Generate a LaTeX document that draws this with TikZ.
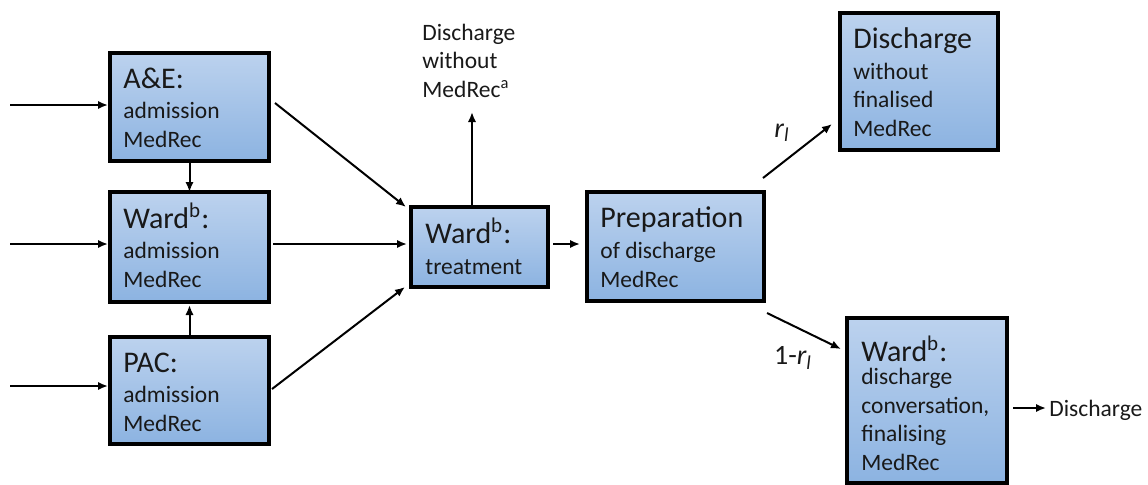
\documentclass[tikz,border=0pt]{standalone}
\usepackage{fontspec}
\setmainfont{Carlito}
\usetikzlibrary{arrows.meta,calc}
\definecolor{boxtop}{RGB}{188,210,238}
\definecolor{boxbot}{RGB}{140,179,225}
\definecolor{txt}{RGB}{25,25,25}
\newcommand{\ttlfont}{\fontsize{15}{18}\selectfont}
\newcommand{\bodyfont}{\fontsize{11.75}{14.25}\selectfont}
\tikzset{
  box/.style={draw=black, line width=1.6pt, top color=boxtop, bottom color=boxbot, rectangle, inner sep=0pt, outer sep=0pt},
  ttl/.style={anchor=base west, inner sep=0pt, font=\ttlfont, text=txt},
  body/.style={anchor=base west, inner sep=0pt, font=\bodyfont, align=left, text=txt},
  arr/.style={-{Latex[length=5pt,width=4.2pt]}, line width=1pt},
  lbl/.style={inner sep=0pt, font=\fontsize{14}{16}\selectfont, text=txt}
}
\begin{document}
\begin{tikzpicture}[x=0.5pt,y=-0.5pt]
\useasboundingbox (0,0) rectangle (1148,484);
% boxes
\node[box, minimum width=79.5pt, minimum height=54pt]   (ae)   at (189.5,107) {};
\node[box, minimum width=79.5pt, minimum height=55pt]   (wa)   at (189.5,247) {};
\node[box, minimum width=79.5pt, minimum height=53.5pt] (pac)  at (189.5,390.5) {};
\node[box, minimum width=68.5pt, minimum height=40pt]   (wt)   at (479.5,247) {};
\node[box, minimum width=88.5pt, minimum height=54.5pt] (prep) at (675.5,246.5) {};
\node[box, minimum width=79pt,   minimum height=68.5pt] (dis)  at (919,81.5) {};
\node[box, minimum width=80pt,   minimum height=82.5pt] (wd)   at (927,400.5) {};
% box texts (body nodes: base = baseline of last line)
\node[ttl]  (aet)  at (123,88)  {A\&E:};
\node[body] (aeb)  at (123,147) {admission\\MedRec};
\node[ttl]  (wat)  at (123,228) {Ward\textsuperscript{b}:};
\node[body] (wab)  at (123,287) {admission\\MedRec};
\node[ttl]  (pact) at (123,372) {PAC:};
\node[body] (pacb) at (123,431) {admission\\MedRec};
\node[ttl]  (wtt)  at (425,243) {Ward\textsuperscript{b}:};
\node[body] (wtb)  at (425,274) {treatment};
\node[ttl]  (prept) at (600,227) {Preparation};
\node[body] (prepb) at (600,287) {of discharge\\MedRec};
\node[ttl]  (dist) at (853,48)  {Discharge};
\node[body] (disb) at (853,136) {without\\finalised\\MedRec};
\node[ttl]  (wdt)  at (861,361) {Ward\textsuperscript{b}:};
\node[body] (wdb)  at (861,470) {discharge\\conversation,\\finalising\\MedRec};
% free texts
\node[body] (dwm) at (422,97) {Discharge\\without\\MedRec\textsuperscript{a}};
\node[body] (dout) at (1049,416) {Discharge};
\node[lbl] (r1) at (782,133) {\itshape r\textsubscript{l}};
\node[lbl] (r2) at (793,358) {1-\itshape r\textsubscript{l}};
% input coordinates
\coordinate (in1) at (10,105);
\coordinate (in2) at (10,244);
\coordinate (in3) at (10,386);
\coordinate (up) at (472,112);
% connectors
\draw[arr] (in1) -- ($(in1 -| ae.west)+(-2,0)$);
\draw[arr] (in2) -- ($(in2 -| wa.west)+(-2,0)$);
\draw[arr] (in3) -- ($(in3 -| pac.west)+(-2,0)$);
\draw[arr] (ae.south) -- (wa.north);
\draw[arr] (pac.north) -- ($(wa.south)+(0,3)$);
\draw[arr] ($(ae.east)+(6,-4)$) -- ($(wt.north west)+(-5,0)$);
\draw[arr] ($(wa.east)+(4,-3)$) -- ($(wt.west)+(-4,-3)$);
\draw[arr] ($(pac.east)+(3,-1.5)$) -- ($(wt.south west)+(-6,0)$);
\draw[arr] ($(wt.north)+(-7.5,-2)$) -- (up);
\draw[arr] ($(wt.east)+(5,-3)$) -- ($(prep.west)+(-7,-2.5)$);
\draw[arr] ($(prep.north east)+(-1,-14)$) -- ($(dis.south west)+(-8,-26)$);
\draw[arr] ($(prep.south east)+(3,12)$) -- ($(wd.north west)+(-6,31)$);
\draw[arr] ($(wd.east)+(6,7.5)$) -- ($(wd.east)+(39,7.5)$);
\end{tikzpicture}
\end{document}
